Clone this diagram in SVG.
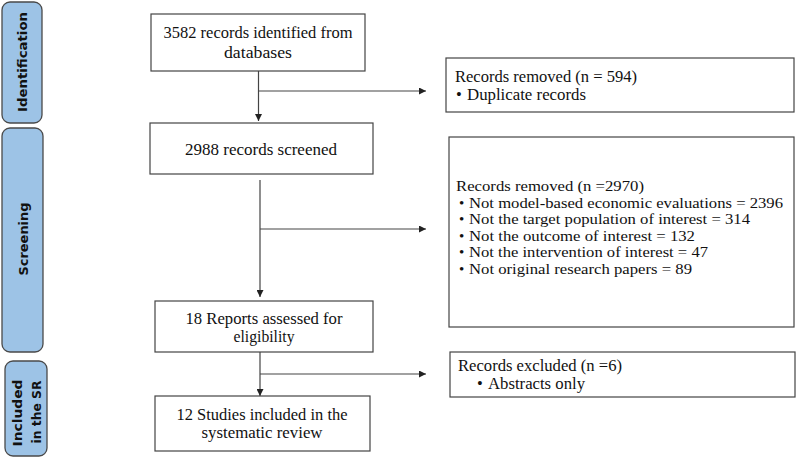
<svg xmlns="http://www.w3.org/2000/svg" width="796" height="462" viewBox="0 0 796 462">
<style>
.tab{fill:#9DC3E6;stroke:#4a4a4a;stroke-width:1.3}
.tt{font-family:"DejaVu Sans",Verdana,sans-serif;font-weight:bold;font-size:13px;fill:#111;text-anchor:middle}
.box{fill:#fff;stroke:#444;stroke-width:1.2}
.t{font-family:"Liberation Serif","Times New Roman",serif;font-size:16.5px;fill:#111}
.s{font-size:15px}
.c{text-anchor:middle}
.ln{stroke:#444;stroke-width:1.2;fill:none}
</style>
<defs>
<marker id="ah" viewBox="0 0 10 10" refX="10" refY="5" markerWidth="7" markerHeight="7" markerUnits="userSpaceOnUse" orient="auto">
<path d="M0,0 L10,5 L0,10 z" fill="#222"/>
</marker>
</defs>
<rect width="796" height="462" fill="#fff"/>
<g id="tab-identification">
<rect class="tab" x="2" y="2" width="40" height="121" rx="8"/>
<text class="tt" transform="translate(27,62) rotate(-90)" textLength="100" lengthAdjust="spacingAndGlyphs">Identification</text>
</g>
<g id="tab-screening">
<rect class="tab" x="2" y="128" width="41" height="224" rx="8"/>
<text class="tt" transform="translate(28,239) rotate(-90)" textLength="73" lengthAdjust="spacingAndGlyphs">Screening</text>
</g>
<g id="tab-included">
<rect class="tab" x="5" y="361" width="42" height="95" rx="8"/>
<text class="tt" transform="translate(22,413) rotate(-90)" textLength="67" lengthAdjust="spacingAndGlyphs">Included</text>
<text class="tt" transform="translate(41,412) rotate(-90)" textLength="63" lengthAdjust="spacingAndGlyphs">in the SR</text>
</g>
<g id="connectors">
<line class="ln" x1="258.5" y1="71" x2="258.5" y2="121" marker-end="url(#ah)"/>
<line class="ln" x1="258.5" y1="91" x2="426" y2="91" marker-end="url(#ah)"/>
<line class="ln" x1="260" y1="180" x2="260" y2="297" marker-end="url(#ah)"/>
<line class="ln" x1="260" y1="229" x2="426" y2="229" marker-end="url(#ah)"/>
<line class="ln" x1="260" y1="352" x2="260" y2="396" marker-end="url(#ah)"/>
<line class="ln" x1="260" y1="374" x2="426" y2="374" marker-end="url(#ah)"/>
</g>
<g id="n-identified">
<rect class="box" x="151" y="14" width="214" height="57"/>
<text class="t c" x="258" y="38" textLength="189" lengthAdjust="spacingAndGlyphs">3582 records identified from</text>
<text class="t c" x="258" y="58" textLength="68" lengthAdjust="spacingAndGlyphs">databases</text>
</g>
<g id="n-screened">
<rect class="box" x="150" y="123" width="223" height="51"/>
<text class="t c" x="261" y="155" textLength="152" lengthAdjust="spacingAndGlyphs">2988 records screened</text>
</g>
<g id="n-assessed">
<rect class="box" x="155" y="301" width="218" height="51"/>
<text class="t c" x="264" y="324" textLength="157" lengthAdjust="spacingAndGlyphs">18 Reports assessed for</text>
<text class="t c" x="264" y="342" textLength="61" lengthAdjust="spacingAndGlyphs">eligibility</text>
</g>
<g id="n-included">
<rect class="box" x="155" y="396" width="215" height="55"/>
<text class="t c" x="262" y="420" textLength="171" lengthAdjust="spacingAndGlyphs">12 Studies included in the</text>
<text class="t c" x="262" y="438" textLength="121" lengthAdjust="spacingAndGlyphs">systematic review</text>
</g>
<g id="n-removed-duplicates">
<rect class="box" x="446" y="58" width="348" height="54"/>
<text class="t" x="455" y="82" textLength="182" lengthAdjust="spacingAndGlyphs">Records removed (n = 594)</text>
<text class="t" x="456" y="100">•</text>
<text class="t" x="467" y="100" textLength="119" lengthAdjust="spacingAndGlyphs">Duplicate records</text>
</g>
<g id="n-removed-screening">
<rect class="box" x="449" y="137" width="345" height="190"/>
<text class="t s" x="456" y="191" textLength="188" lengthAdjust="spacingAndGlyphs">Records removed (n =2970)</text>
<text class="t s" x="459" y="207.5">•</text>
<text class="t s" x="469" y="207.5" textLength="314" lengthAdjust="spacingAndGlyphs">Not model-based economic evaluations = 2396</text>
<text class="t s" x="459" y="224">•</text>
<text class="t s" x="469" y="224" textLength="281" lengthAdjust="spacingAndGlyphs">Not the target population of interest = 314</text>
<text class="t s" x="459" y="240.5">•</text>
<text class="t s" x="469" y="240.5" textLength="226" lengthAdjust="spacingAndGlyphs">Not the outcome of interest = 132</text>
<text class="t s" x="459" y="257">•</text>
<text class="t s" x="469" y="257" textLength="239" lengthAdjust="spacingAndGlyphs">Not the intervention of interest = 47</text>
<text class="t s" x="459" y="273.5">•</text>
<text class="t s" x="469" y="273.5" textLength="223" lengthAdjust="spacingAndGlyphs">Not original research papers = 89</text>
</g>
<g id="n-excluded">
<rect class="box" x="450" y="352" width="345" height="45"/>
<text class="t" x="458" y="371" textLength="164" lengthAdjust="spacingAndGlyphs">Records excluded (n =6)</text>
<text class="t" x="477" y="389">•</text>
<text class="t" x="488" y="389" textLength="97" lengthAdjust="spacingAndGlyphs">Abstracts only</text>
</g>
</svg>
